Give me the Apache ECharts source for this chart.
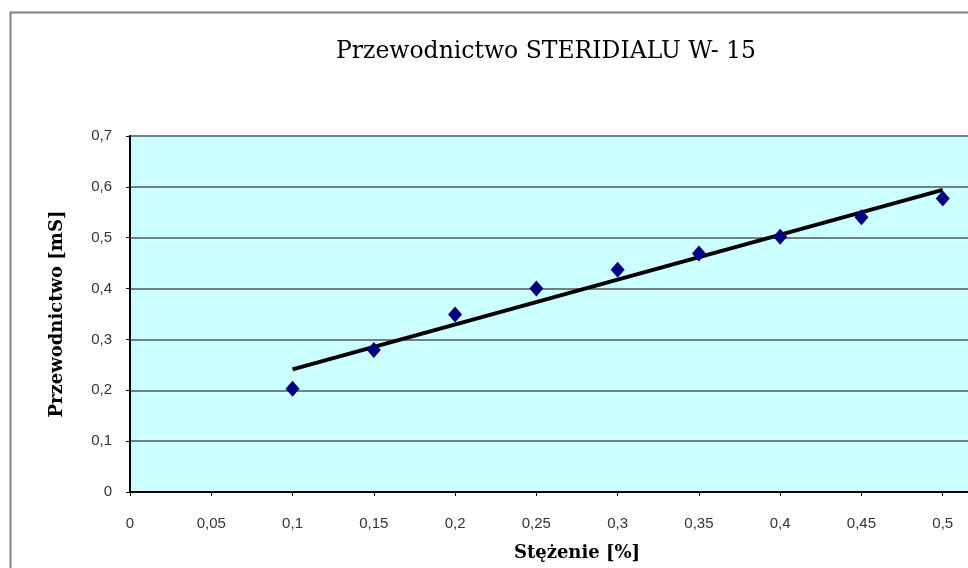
<!DOCTYPE html>
<html>
<head>
<meta charset="utf-8">
<script src="https://cdn.jsdelivr.net/npm/echarts@6/dist/echarts.min.js"></script>
<style>html,body{margin:0;padding:0;background:#fff;}#c{width:968px;height:568px;}</style>
</head>
<body>
<div id="c"></div>
<script>
const titleText = "Przewodnictwo STERIDIALU W- 15";
const xAxisTitle = "Stężenie [%]";
const yAxisTitle = "Przewodnictwo [mS]";
const concentration = [0.1, 0.15, 0.2, 0.25, 0.3, 0.35, 0.4, 0.45, 0.5];
const conductivity = [0.203, 0.279, 0.349, 0.400, 0.437, 0.469, 0.502, 0.540, 0.577];
const trendX = [0.1, 0.5];
const trendY = [0.241, 0.594];

const fmt = v => (+(+v).toFixed(2)).toString().replace('.', ',');
const chart = echarts.init(document.getElementById('c'));
chart.setOption({
  animation: false,
  backgroundColor: '#ffffff',
  title: {
    text: titleText, left: 541, top: 35, textAlign: 'center',
    textStyle: { fontFamily: 'DejaVu Serif', fontWeight: 'normal', fontSize: 23.5, color: '#000' }
  },
  graphic: [{
    type: 'rect', shape: { x: 10.5, y: 12.5, width: 1000, height: 600 },
    style: { fill: 'none', stroke: '#808080', lineWidth: 2 }, z: -1
  }],
  grid: {
    left: 130, top: 136, right: -56, bottom: 76,
    outerBoundsMode: 'none', containLabel: false,
    show: true, backgroundColor: '#CCFFFF', borderColor: '#808080', borderWidth: 2
  },
  xAxis: {
    type: 'value', min: 0, max: 0.55, interval: 0.05,
    name: xAxisTitle, nameLocation: 'middle', nameGap: 52,
    nameTextStyle: { fontFamily: 'DejaVu Serif', fontWeight: 'bold', fontSize: 18, color: '#000' },
    axisLine: { show: true, onZero: false, lineStyle: { color: '#000', width: 2 } },
    axisTick: { show: true, length: 4, lineStyle: { color: '#000' } },
    axisLabel: { margin: 24, formatter: fmt, fontFamily: 'Liberation Sans', fontSize: 15, color: '#333' },
    splitLine: { show: false }
  },
  yAxis: {
    type: 'value', min: 0, max: 0.7, interval: 0.1,
    name: yAxisTitle, nameLocation: 'middle', nameGap: 64,
    nameTextStyle: { fontFamily: 'DejaVu Serif', fontWeight: 'bold', fontSize: 18, color: '#000' },
    axisLine: { show: true, lineStyle: { color: '#000', width: 2 } },
    axisTick: { show: true, length: 4, lineStyle: { color: '#000' } },
    axisLabel: { margin: 18, formatter: fmt, fontFamily: 'Liberation Sans', fontSize: 15, color: '#333' },
    splitLine: { show: true, lineStyle: { color: '#708080', width: 2 } }
  },
  series: [
    {
      type: 'line', data: trendX.map((x, i) => [x, trendY[i]]),
      showSymbol: false, symbol: 'none', lineStyle: { color: '#000', width: 4 }, z: 2
    },
    {
      type: 'scatter', data: concentration.map((x, i) => [x, conductivity[i]]),
      symbol: 'diamond', symbolSize: [14, 16], itemStyle: { color: '#000080', opacity: 1 }, z: 3
    }
  ]
});
</script>
</body>
</html>
